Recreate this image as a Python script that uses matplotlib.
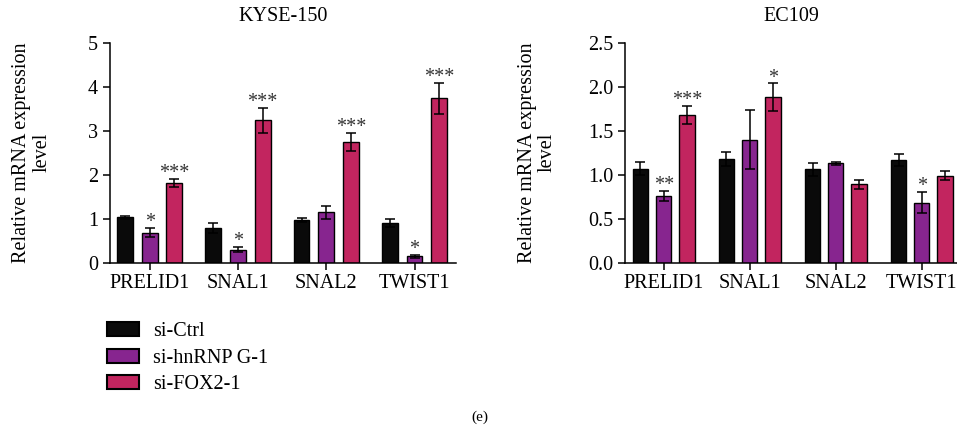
import matplotlib
matplotlib.use('Agg')
import matplotlib.pyplot as plt
import numpy as np
from matplotlib.patches import Patch

plt.rcParams['font.family'] = ['Liberation Serif', 'DejaVu Serif']

genes = ['PRELID1', 'SNAL1', 'SNAL2', 'TWIST1']
grupos = ['si-Ctrl', 'si-hnRNP G-1', 'si-FOX2-1']
colores = ['#0a0a0a', '#87258f', '#c2255f']

# KYSE-150
kyse_media = [[1.03, 0.78, 0.97, 0.91],
              [0.68, 0.29, 1.14, 0.14],
              [1.81, 3.24, 2.74, 3.74]]
kyse_err = [[0.04, 0.11, 0.04, 0.09],
            [0.10, 0.06, 0.14, 0.03],
            [0.10, 0.29, 0.21, 0.36]]
kyse_sig = [['', '', '', ''],
            ['*', '*', '', '*'],
            ['***', '***', '***', '***']]

# EC109
ec_media = [[1.07, 1.18, 1.06, 1.17],
            [0.756, 1.40, 1.13, 0.68],
            [1.68, 1.88, 0.89, 0.99]]
ec_err = [[0.07, 0.08, 0.07, 0.07],
          [0.055, 0.34, 0.02, 0.12],
          [0.10, 0.16, 0.05, 0.05]]
ec_sig = [['', '', '', ''],
          ['**', '', '', '*'],
          ['***', '*', '', '']]

fs = 14.5
W, H = 957, 432
fig = plt.figure(figsize=(W/100, H/100), dpi=100)
ax1 = fig.add_axes([110/W, 1-262.5/H, 346/W, 219.5/H])
ax2 = fig.add_axes([625/W, 1-262.5/H, 332/W, 219.5/H])


def panel(ax, media, err, sig, titulo, ymax, yticks, ylabs, xr, dx, lx):
    x = np.arange(len(genes))
    for k in range(3):
        xs = x + (k-1)*dx
        ax.bar(xs, media[k], 0.18, color=colores[k], edgecolor='k', linewidth=1.0,
               yerr=err[k], capsize=3.6, error_kw=dict(elinewidth=1.1, capthick=1.1, ecolor='k'),
               zorder=2)
        for i in range(len(genes)):
            if sig[k][i]:
                ax.annotate(sig[k][i], (xs[i], media[k][i]+err[k][i]), xytext=(0, -3),
                            textcoords='offset points', ha='center', va='bottom',
                            fontsize=fs, color='#333333')
    ax.set_xlim(-0.45, xr)
    ax.set_ylim(0, ymax)
    ax.set_xticks(x)
    ax.set_xticklabels(genes, fontsize=fs)
    ax.set_yticks(yticks)
    ax.set_yticklabels(ylabs, fontsize=fs)
    for s in ['top', 'right']:
        ax.spines[s].set_visible(False)
    for s in ['left', 'bottom']:
        ax.spines[s].set_linewidth(1.1)
    ax.tick_params(axis='both', length=5, width=1.1, pad=3.5)
    ax.set_title(titulo, fontsize=fs, pad=16)
    ax.set_ylabel('Relative mRNA expression\nlevel', fontsize=fs, linespacing=1.1)
    ax.yaxis.set_label_coords(lx, 0.5)


panel(ax1, kyse_media, kyse_err, kyse_sig, 'KYSE-150', 5, [0, 1, 2, 3, 4, 5],
      ['0', '1', '2', '3', '4', '5'], 3.47, 0.28, -0.168)
panel(ax2, ec_media, ec_err, ec_sig, 'EC109', 2.5, [0, 0.5, 1.0, 1.5, 2.0, 2.5],
      ['0.0', '0.5', '1.0', '1.5', '2.0', '2.5'], 3.41, 0.27, -0.205)

handles = [Patch(facecolor=c, edgecolor='k', linewidth=1.5) for c in colores]
fig.legend(handles, grupos, loc='upper left', bbox_to_anchor=(107/W, 1-322/H),
           frameon=False, fontsize=fs, handlelength=1.6, handleheight=0.7,
           handletextpad=0.7, labelspacing=0.37, borderpad=0, borderaxespad=0)

fig.text(480/W, 1-417/H, '(e)', ha='center', va='center', fontsize=11)

fig.savefig('out.png', dpi=100)
